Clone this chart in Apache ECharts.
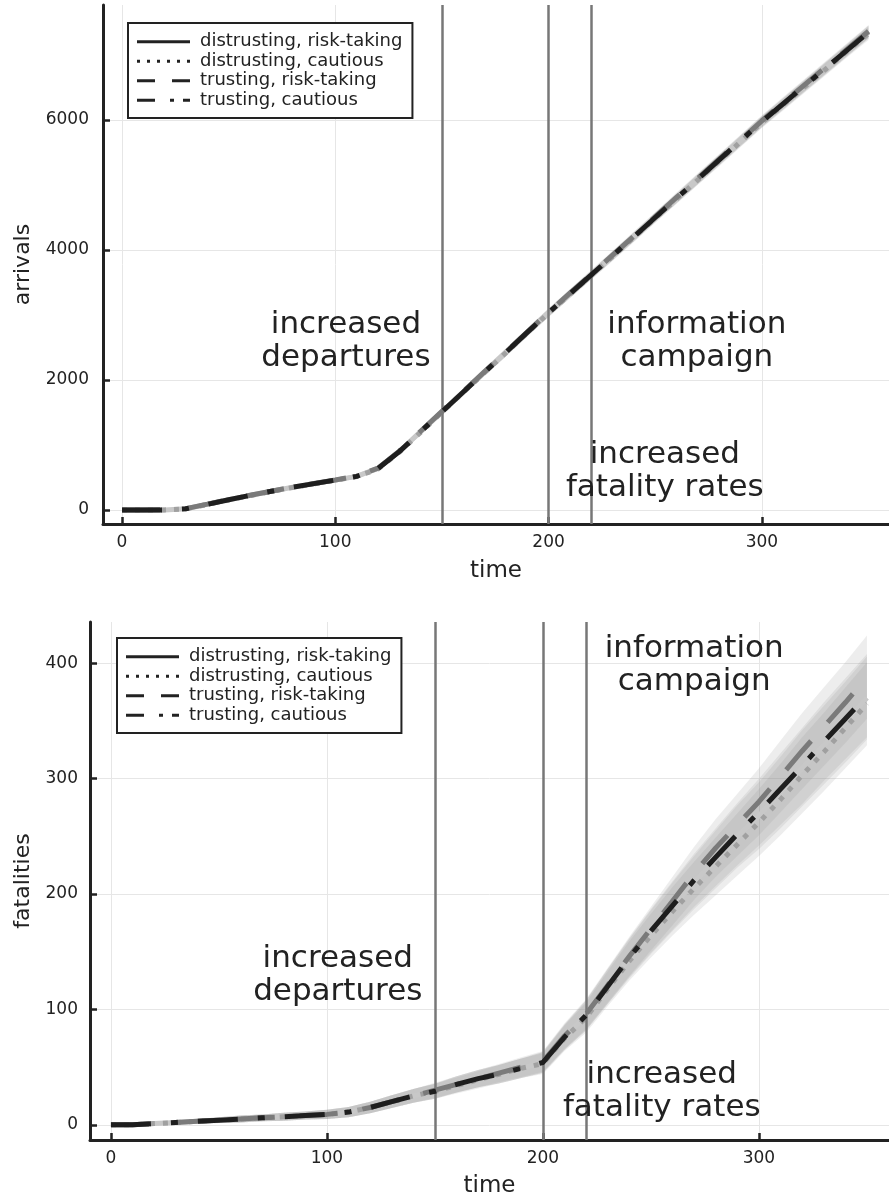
<!DOCTYPE html>
<html><head><meta charset="utf-8">
<script src="https://cdn.jsdelivr.net/npm/echarts@6/dist/echarts.min.js"></script>
<style>html,body{margin:0;padding:0;background:#fff}#c{width:889px;height:1200px}</style>
</head><body><div id="c"></div>
<script>
// ---------- data ----------
const seriesNames = ['distrusting, risk-taking', 'distrusting, cautious', 'trusting, risk-taking', 'trusting, cautious'];
const times = [0,10,20,30,40,50,60,70,80,90,100,110,120,130,140,150,160,170,180,190,200,210,220,230,240,250,260,270,280,290,300,310,320,330,340,350];

const arrDistRisk  = [0,0,2,20,88,158,224,288,350,405,460,518,640,900,1205,1510,1815,2120,2425,2730,3035,3325,3615,3910,4205,4500,4795,5090,5385,5680,5975,6250,6525,6800,7075,7350];
const arrDistCaut  = [0,0,2,18,85,155,222,286,347,402,458,515,630,890,1195,1505,1810,2115,2420,2725,3030,3320,3610,3900,4195,4490,4785,5080,5370,5665,5960,6235,6510,6785,7060,7330];
const arrTrustRisk = [0,0,3,22,90,160,227,290,352,408,463,521,645,905,1212,1518,1822,2128,2432,2738,3042,3335,3625,3920,4215,4512,4808,5102,5398,5692,5988,6265,6540,6815,7090,7365];
const arrTrustCaut = [0,0,2,20,87,157,225,288,350,406,461,518,638,898,1203,1510,1815,2120,2425,2732,3036,3326,3616,3910,4205,4500,4795,5090,5385,5680,5975,6250,6525,6800,7075,7350];
const arrSpread    = [0,2,5,10,15,18,20,22,25,27,30,32,35,40,45,50,52,55,58,60,62,64,66,68,70,72,75,78,80,82,85,88,90,92,95,98];

const fatDistRisk  = [0,0,1,2,3,4,5,6,7,8,9,11,15,20,25,29,35,40,44,49,54,76,95,120,144,167,189,210,230,250,268,288,309,329,349,370];
const fatDistCaut  = [0,0,1,2,3,4,5,6,7,8,9,11,15,20,25,29,34,39,44,49,53,75,93,118,142,164,185,205,224,243,262,282,303,323,344,365];
const fatTrustRisk = [0,0,1,2,3,4,5,6,7,8,9,11,15,20,25,30,35,40,45,50,55,77,96,121,146,170,194,218,240,260,280,302,324,345,366,388];
const fatTrustCaut = [0,0,1,2,3,4,5,6,7,8,9,11,15,20,25,29,35,40,44,49,54,76,95,120,145,168,190,212,232,252,271,291,311,332,352,372];
const fatSpread    = [0,0.5,1,1.5,2,2.5,3,3,3.5,3.5,4,4.5,5,5.5,6,6.5,7,7.5,8,8.5,9,11,13,15,17,19,21,23,25,27,29,31,33,34,35,36];

const timeTicks = [0,100,200,300];
const arrTicks = [0,2000,4000,6000];
const fatTicks = [0,100,200,300,400];
const eventTimes = [150,200,220];

const arrAnnots = [
  {t:105, v:2600, text:'increased\ndepartures'},
  {t:269.5, v:2600, text:'information\ncampaign'},
  {t:254.5, v:592, text:'increased\nfatality rates'}
];
const fatAnnots = [
  {t:105, v:129, text:'increased\ndepartures'},
  {t:270, v:398.5, text:'information\ncampaign'},
  {t:255, v:29, text:'increased\nfatality rates'}
];

// ---------- style ----------
const FONT = 'DejaVu Sans';
const TXT = '#222';
const lineColors = ['#c8c8c8','#a0a0a0','#7a7a7a','#1e1e1e'];
const plotDash = ['solid',[5,8],[38,25],[40,20,7,20]];
// legend sample glyphs (53 x 3 px) for solid, dotted, dashed, dash-dot
const legendIcons = [
  'path://M0,0h53v3h-53z',
  'path://M0,0h3v3h-3z M10,0h3v3h-3z M20,0h3v3h-3z M30,0h3v3h-3z M40,0h3v3h-3z M50,0h3v3h-3z',
  'path://M0,0h18v3h-18z M35,0h18v3h-18z',
  'path://M0,0h18v3h-18z M33,0h4v3h-4z M46,0h7v3h-7z'
];

function mkX(gi, min, max, gap){
  return {type:'value', gridIndex:gi, min:min, max:max, name:'time', nameLocation:'middle', nameGap:gap,
    nameTextStyle:{fontFamily:FONT, fontSize:23, color:TXT},
    axisLine:{show:true, onZero:false, lineStyle:{color:'#222', width:3}},
    axisTick:{show:true, inside:true, length:7, lineStyle:{color:'#222', width:2.5}, customValues:timeTicks},
    axisLabel:{show:true, margin:10, fontFamily:FONT, fontSize:17, color:TXT, customValues:timeTicks, formatter:v=>String(v)},
    splitLine:{show:true, lineStyle:{color:'#e6e6e6', width:1}}};
}
function mkY(gi, min, max, name, gap, margin, ticks){
  return {type:'value', gridIndex:gi, min:min, max:max, name:name, nameLocation:'middle', nameGap:gap,
    nameTextStyle:{fontFamily:FONT, fontSize:22, color:TXT},
    axisLine:{show:true, onZero:false, lineStyle:{color:'#222', width:3}},
    axisTick:{show:true, inside:true, length:7, lineStyle:{color:'#222', width:2.5}, customValues:ticks},
    axisLabel:{show:true, margin:margin, fontFamily:FONT, fontSize:17, color:TXT, customValues:ticks, formatter:v=>String(v)},
    splitLine:{show:true, lineStyle:{color:'#e6e6e6', width:1}}};
}
function mkLegend(left, top){
  return {left:left, top:top, orient:'vertical', padding:[9,10,8,9], itemGap:0, itemWidth:53, itemHeight:3,
    backgroundColor:'#fff', borderColor:'#222', borderWidth:2, borderRadius:0, selectedMode:false, z:30,
    textStyle:{fontFamily:FONT, fontSize:18, color:TXT, lineHeight:19.5, padding:[0,0,0,5]},
    data: seriesNames.map((n,i)=>({name:n, icon:legendIcons[i], itemStyle:{color:'#222', borderWidth:0}}))};
}
function bandSeries(gi, mean, spread){
  return {type:'custom', xAxisIndex:gi, yAxisIndex:gi, silent:true, z:1, clip:true, data:[[0,0]],
    renderItem:function(params, api){
      const pts=[];
      for(let i=0;i<times.length;i++) pts.push(api.coord([times[i], mean[i]+spread[i]]));
      for(let i=times.length-1;i>=0;i--) pts.push(api.coord([times[i], mean[i]-spread[i]]));
      return {type:'polygon', shape:{points:pts}, style:{fill:'rgba(140,140,140,0.16)'}};
    }};
}
function lineSeries(gi, k, vals){
  return {type:'line', name:seriesNames[k], xAxisIndex:gi, yAxisIndex:gi, symbol:'none', silent:true, clip:true,
    z:3+k, data: times.map((t,i)=>[t, vals[i]]),
    lineStyle:{color:lineColors[k], width:5, type:plotDash[k], cap:'butt'}, itemStyle:{color:lineColors[k]}};
}
function vlineSeries(gi){
  return {type:'line', xAxisIndex:gi, yAxisIndex:gi, data:[], silent:true, z:10,
    markLine:{silent:true, symbol:['none','none'], label:{show:false}, animation:false,
      lineStyle:{color:'#777', width:2.5, type:'solid'},
      data: eventTimes.map(t=>({xAxis:t}))}};
}
function annotSeries(gi, annots){
  return {type:'custom', xAxisIndex:gi, yAxisIndex:gi, silent:true, z:20, clip:false,
    data: annots.map(a=>[a.t, a.v]),
    renderItem:function(params, api){
      const a = annots[params.dataIndex];
      const p = api.coord([a.t, a.v]);
      return {type:'text', x:p[0], y:p[1], style:{text:a.text, fill:TXT, fontFamily:FONT, fontSize:31, lineHeight:33, align:'center', verticalAlign:'middle'}};
    }};
}

const arrSets = [arrDistRisk, arrDistCaut, arrTrustRisk, arrTrustCaut];
const fatSets = [fatDistRisk, fatDistCaut, fatTrustRisk, fatTrustCaut];
const series = [];
arrSets.forEach(s=>series.push(bandSeries(0, s, arrSpread)));
fatSets.forEach(s=>series.push(bandSeries(1, s, fatSpread)));
arrSets.forEach((s,k)=>series.push(lineSeries(0, k, s)));
fatSets.forEach((s,k)=>series.push(lineSeries(1, k, s)));
series.push(vlineSeries(0), vlineSeries(1));
series.push(annotSeries(0, arrAnnots), annotSeries(1, fatAnnots));

const chart = echarts.init(document.getElementById('c'), null, {renderer:'canvas'});
chart.setOption({
  animation:false,
  backgroundColor:'#fff',
  textStyle:{fontFamily:FONT},
  grid:[{left:103, top:5, width:786, height:519}, {left:90, top:622, width:799, height:518}],
  xAxis:[mkX(0, -8.9, 359.6, 36), mkX(1, -9.7, 360.2, 35)],
  yAxis:[mkY(0, -215, 7769, 'arrivals', 69, 14, arrTicks), mkY(1, -13.2, 435.8, 'fatalities', 56, 12, fatTicks)],
  legend:[mkLegend(128, 23), mkLegend(117, 638)],
  series: series
});
</script></body></html>
